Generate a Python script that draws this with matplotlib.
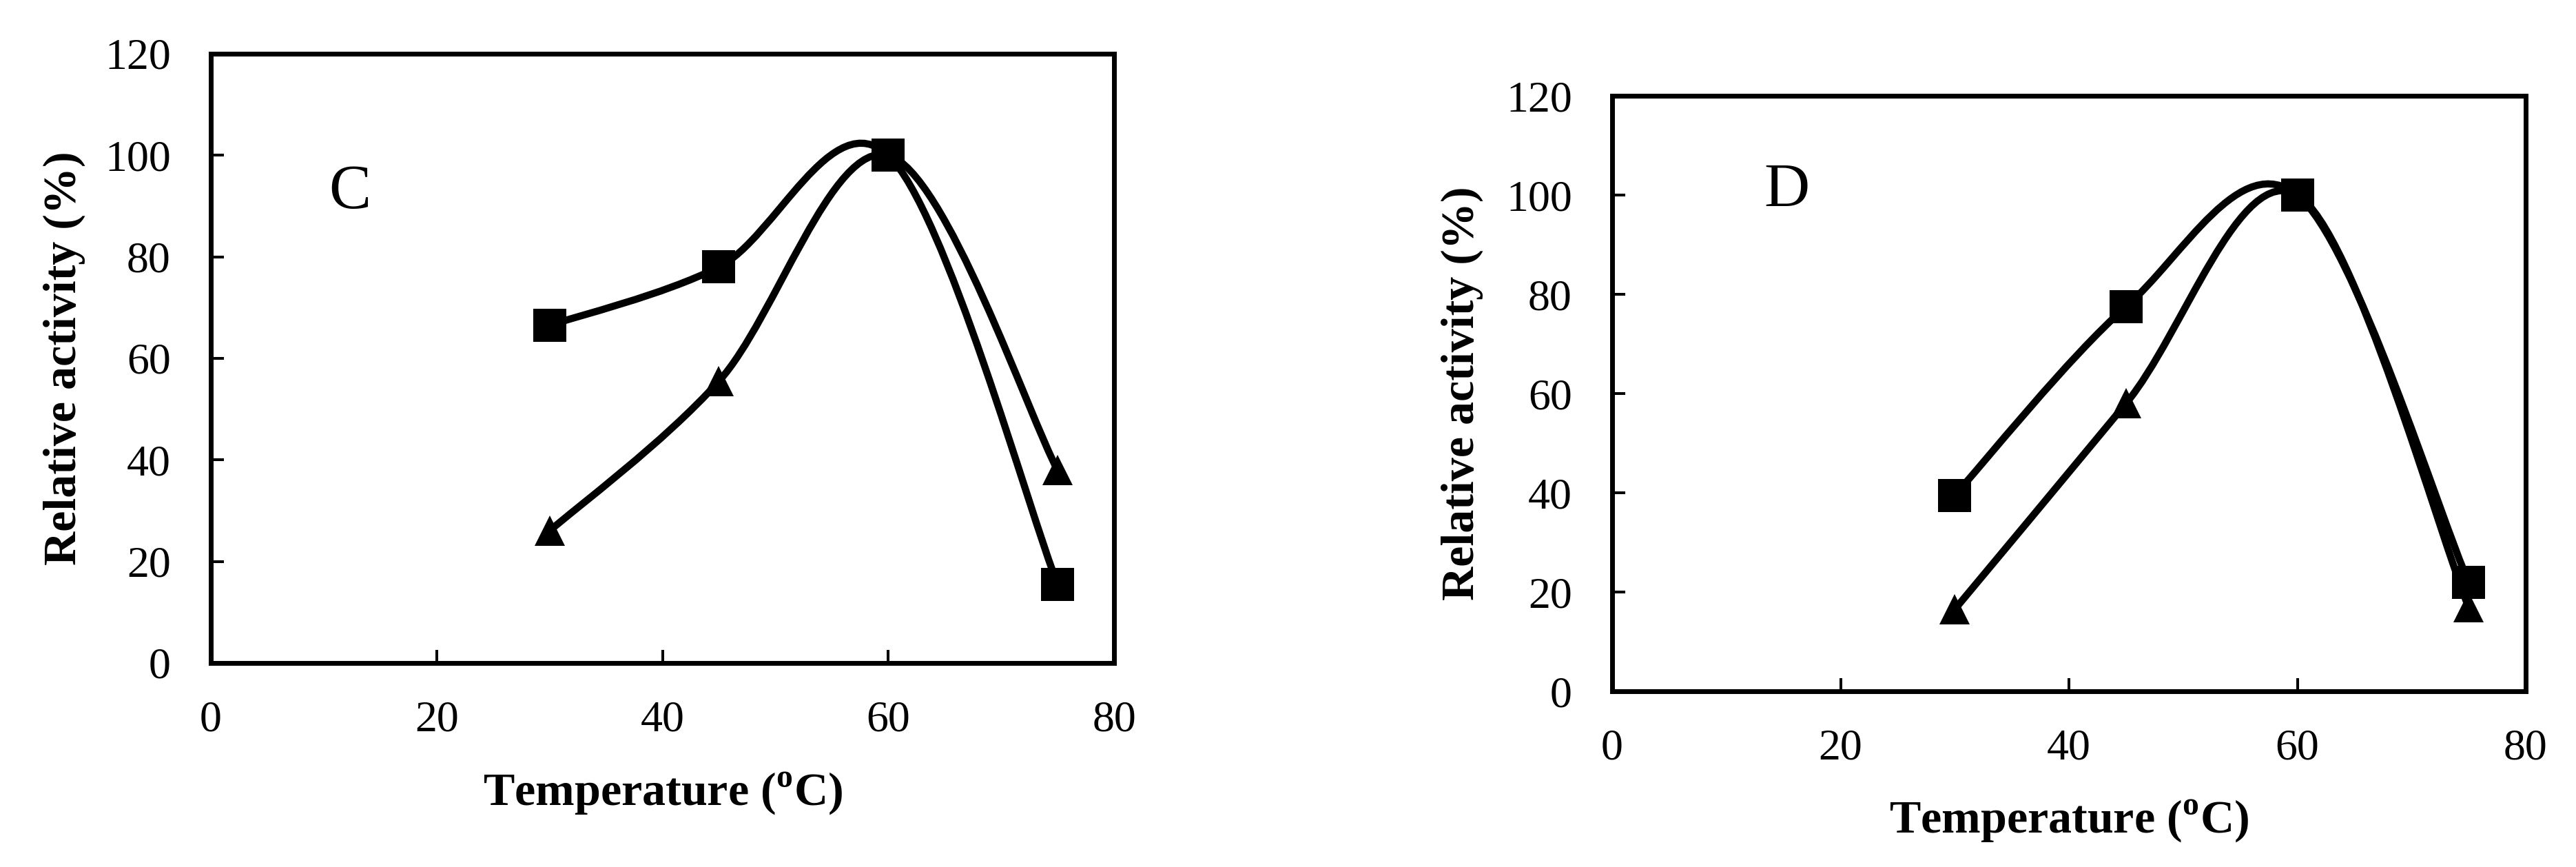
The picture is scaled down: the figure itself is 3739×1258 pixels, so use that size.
import numpy as np
import matplotlib.pyplot as plt
from matplotlib.path import Path
from matplotlib.patches import PathPatch

plt.rcParams['font.family'] = ['Liberation Serif', 'DejaVu Serif']
plt.rcParams['mathtext.fontset'] = 'custom'
plt.rcParams['mathtext.rm'] = 'Liberation Serif'
plt.rcParams['mathtext.bf'] = 'Liberation Serif:bold'

# data
temp = [30, 45, 60, 75]
c_square = [66.5, 78, 100, 15.5]
c_triangle = [26, 55.5, 100, 38]
d_square = [39.5, 77.5, 100, 22]
d_triangle = [16.5, 58, 100, 17]

x_ticks = [0, 20, 40, 60, 80]
y_ticks = [0, 20, 40, 60, 80, 100, 120]


def smooth_path(x, y):
    # smoothed line like Excel: cubic Bezier pieces with Catmull-Rom tangents
    p = np.column_stack([x, y]).astype(float)
    ext = np.vstack([p[0], p, p[-1]])
    verts = [p[0]]
    codes = [Path.MOVETO]
    for i in range(len(p) - 1):
        c1 = ext[i + 1] + (ext[i + 2] - ext[i]) / 6
        c2 = ext[i + 2] - (ext[i + 3] - ext[i + 1]) / 6
        verts += [c1, c2, p[i + 1]]
        codes += [Path.CURVE4] * 3
    return Path(verts, codes)


def panel(ax, sq, tri, letter, lx, ly, label_x, label_y):
    for vals in (tri, sq):
        ax.add_patch(PathPatch(smooth_path(temp, vals), fill=False, lw=7.5,
                               ec='k', capstyle='round', joinstyle='round'))
    ax.plot(temp, tri, '^', ms=32, color='k', mew=0, zorder=3)
    ax.plot(temp, sq, 's', ms=34, color='k', mew=0, zorder=3)

    ax.set_xlim(0, 80)
    ax.set_ylim(0, 120)
    ax.set_xticks(x_ticks)
    ax.set_yticks(y_ticks)
    ax.tick_params(direction='in', length=13.5, width=2.9, labelsize=46)
    ax.tick_params(axis='x', pad=39)
    ax.tick_params(axis='y', pad=42)
    for s in ax.spines.values():
        s.set_linewidth(5)

    ax.text(lx, ly, letter, fontsize=66, ha='center', va='baseline')

    ax.set_xlabel('Temperature ($^{\\mathbf{o}}$C)', fontsize=49,
                  fontweight='bold', va='baseline')
    ax.xaxis.set_label_coords(0.5, label_y)
    ax.set_ylabel('Relative activity (%)', fontsize=49, fontweight='bold',
                  va='baseline')
    ax.yaxis.set_label_coords(label_x, 0.5)


fig = plt.figure(figsize=(37.39, 12.58), dpi=100)
ax1 = fig.add_axes([306 / 3739, 1 - 962 / 1258, 1311 / 3739, 884 / 1258])
ax2 = fig.add_axes([2340 / 3739, 1 - 1003 / 1258, 1326 / 3739, 864 / 1258])

panel(ax1, c_square, c_triangle, 'C', 12.3, 89.6, -0.1495, -0.233)
panel(ax2, d_square, d_triangle, 'D', 15.3, 97.6, -0.152, -0.238)

fig.savefig('out.png', dpi=100)
